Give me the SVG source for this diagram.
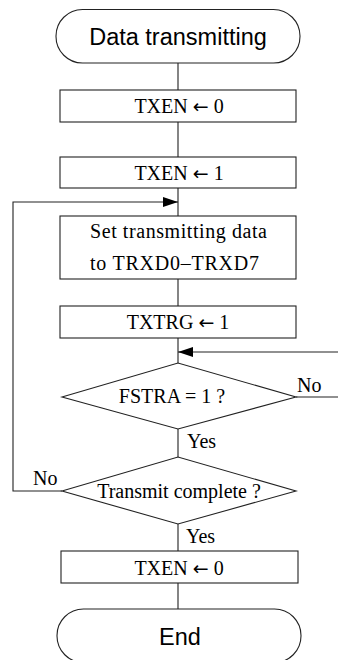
<svg xmlns="http://www.w3.org/2000/svg" width="338" height="660" viewBox="0 0 338 660">
<defs>
<style>
.s{fill:#fff;stroke:#222;stroke-width:1.1}
.c{fill:none;stroke:#222;stroke-width:1.1}
.sans{font-family:"Liberation Sans",Arial,sans-serif;font-size:23.5px;fill:#000}
.ser{font-family:"Liberation Serif","Times New Roman",serif;font-size:20px;fill:#000}
.ar{font-family:"DejaVu Sans",sans-serif;font-size:19px}
</style>
<marker id="ah" markerWidth="15" markerHeight="10" refX="15" refY="5" orient="auto" markerUnits="userSpaceOnUse">
<path d="M0,0 L15,5 L0,10 Z" fill="#000"/>
</marker>
</defs>
<g id="connectors">
<path class="c" d="M178,63 V90 M178,122 V157 M178,188 V216 M178,279 V306 M178,338 V363 M178,429 V457 M178,524 V551 M178,583 V609"/>
<path class="c" d="M62,491 H13 V202 H178" marker-end="url(#ah)"/>
<path class="c" d="M296,397 H338"/>
<path class="c" d="M338,352 H178" marker-end="url(#ah)"/>
<text class="ser" x="297" y="392">No</text>
<text class="ser" x="33" y="485">No</text>
<text class="ser" x="187" y="448">Yes</text>
<text class="ser" x="186" y="543">Yes</text>
</g>
<g id="start">
<rect class="s" x="56" y="9.5" width="244" height="53.5" rx="26.5"/>
<text class="sans" x="178" y="45" text-anchor="middle">Data transmitting</text>
</g>
<g id="txen0">
<rect class="s" x="60" y="90" width="236" height="32"/>
<text class="ser" x="179" y="113" text-anchor="middle">TXEN <tspan class="ar">←</tspan> 0</text>
</g>
<g id="txen1">
<rect class="s" x="60" y="157" width="236" height="31"/>
<text class="ser" x="179" y="180" text-anchor="middle">TXEN <tspan class="ar">←</tspan> 1</text>
</g>
<g id="setdata">
<rect class="s" x="60" y="216" width="236" height="63"/>
<text class="ser" x="90" y="238" textLength="177" lengthAdjust="spacing">Set transmitting data</text>
<text class="ser" x="90" y="270" textLength="169" lengthAdjust="spacing">to TRXD0–TRXD7</text>
</g>
<g id="txtrg">
<rect class="s" x="60" y="306" width="236" height="32"/>
<text class="ser" x="178" y="329" text-anchor="middle">TXTRG <tspan class="ar">←</tspan> 1</text>
</g>
<g id="fstra">
<polygon class="s" points="62,397 178,363 296,397 178,429"/>
<text class="ser" x="172" y="403" text-anchor="middle">FSTRA = 1 ?</text>
</g>
<g id="complete">
<polygon class="s" points="62,491 178,457 296,491 178,524"/>
<text class="ser" x="179" y="498" text-anchor="middle">Transmit complete ?</text>
</g>
<g id="txen0b">
<rect class="s" x="61" y="551" width="237" height="32"/>
<text class="ser" x="179" y="575" text-anchor="middle">TXEN <tspan class="ar">←</tspan> 0</text>
</g>
<g id="end">
<rect class="s" x="57" y="609" width="244" height="53.5" rx="26.5"/>
<text class="sans" x="180" y="645" text-anchor="middle">End</text>
</g>
</svg>
